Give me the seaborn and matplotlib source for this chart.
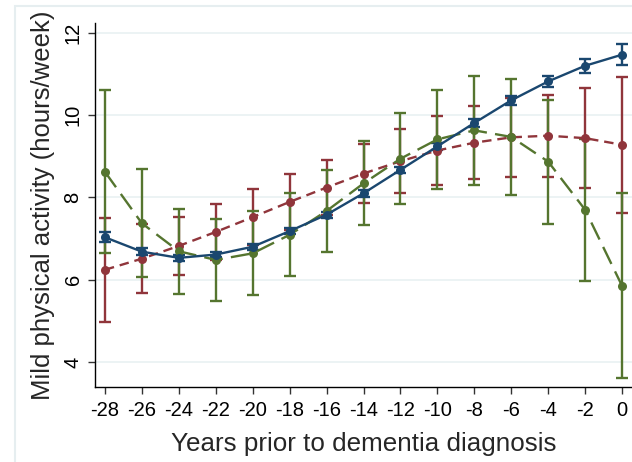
import numpy as np
import pandas as pd
import matplotlib
matplotlib.use("Agg")
import matplotlib.pyplot as plt
from matplotlib.patches import Rectangle
import seaborn as sns

years = [-28, -26, -24, -22, -20, -18, -16, -14, -12, -10, -8, -6, -4, -2, 0]

blue_mean = [7.03, 6.68, 6.53, 6.61, 6.80, 7.18, 7.58, 8.10, 8.67, 9.24, 9.81, 10.36, 10.82, 11.20, 11.47]
blue_err = [0.12, 0.09, 0.08, 0.07, 0.07, 0.07, 0.07, 0.08, 0.08, 0.09, 0.10, 0.11, 0.14, 0.17, 0.26]

red_mean = [6.24, 6.51, 6.82, 7.16, 7.52, 7.89, 8.24, 8.58, 8.88, 9.14, 9.33, 9.46, 9.50, 9.44, 9.28]
red_err = [1.27, 0.84, 0.70, 0.69, 0.68, 0.68, 0.68, 0.71, 0.78, 0.84, 0.89, 0.96, 1.00, 1.21, 1.65]

green_mean = [8.62, 7.37, 6.69, 6.48, 6.64, 7.09, 7.67, 8.34, 8.94, 9.41, 9.63, 9.47, 8.87, 7.70, 5.85]
green_err = [1.98, 1.31, 1.03, 0.99, 1.02, 1.01, 1.00, 1.02, 1.10, 1.20, 1.32, 1.41, 1.51, 1.73, 2.25]

groups = ["red", "green", "blue"]
colors = {"blue": "#1a476f", "red": "#90353b", "green": "#55752f"}
dashes = {"blue": "", "red": (4, 2.5), "green": (8, 3.5)}

means = {"blue": blue_mean, "red": red_mean, "green": green_mean}
errs = {"blue": blue_err, "red": red_err, "green": green_err}

df = pd.concat([pd.DataFrame({"year": years, "value": means[g], "err": errs[g], "group": g})
                for g in groups], ignore_index=True)

sns.set_style("white")
plt.rcParams['font.family'] = ['Liberation Sans', 'DejaVu Sans']

fig = plt.figure(figsize=(6.32, 4.62), dpi=100)
ax = fig.add_axes([95 / 632, 75 / 462, 537 / 632, 364 / 462])

# outer graph region border (Stata style)
fig.patches.append(Rectangle((15 / 632, -0.2), 2, (462 - 6) / 462 + 0.2, transform=fig.transFigure,
                             fill=False, edgecolor="#e6eef0", lw=1.5, zorder=0))

for i, g in enumerate(groups):
    sub = df[df.group == g]
    ax.errorbar(sub.year, sub.value, yerr=sub.err, fmt="none", ecolor=colors[g],
                elinewidth=1.7, capsize=4.5, capthick=1.7, zorder=2 + i)

sns.lineplot(data=df, x="year", y="value", hue="group", style="group",
             palette=colors, dashes=dashes, markers={"blue": "o", "red": "o", "green": "o"},
             markersize=6.5, markeredgewidth=0, linewidth=1.7, legend=False, ax=ax, zorder=6)

ax.set_xlim(-28.54, 0.54)
ax.set_ylim(3.39, 12.24)
ax.set_xticks(years)
ax.set_xticklabels([str(y) for y in years])
ax.set_yticks([4, 6, 8, 10, 12])
ax.set_yticklabels(["4", "6", "8", "10", "12"], rotation=90, va="center")

ax.grid(axis="y", color="#eaf2f3", lw=1.3)
ax.grid(axis="x", visible=False)
ax.set_axisbelow(True)
sns.despine(ax=ax, top=True, right=True)
for s in ["left", "bottom"]:
    ax.spines[s].set_color("black")
    ax.spines[s].set_linewidth(1.0)

ax.tick_params(axis="both", direction="out", length=5, width=1, color="#333333",
               labelsize=14.5, labelcolor="black", left=True, bottom=True)
ax.tick_params(axis="x", pad=5)
ax.tick_params(axis="y", pad=4)

ax.set_xlabel("Years prior to dementia diagnosis", fontsize=18.7, labelpad=9)
ax.set_ylabel("Mild physical activity (hours/week)", fontsize=18.5, labelpad=6)

fig.text(285 / 632, 1 + 5 / 462, "Mild activity by physical activity type", ha="center",
         va="baseline", fontsize=16, fontweight="bold")

fig.savefig("out.png", dpi=100)
